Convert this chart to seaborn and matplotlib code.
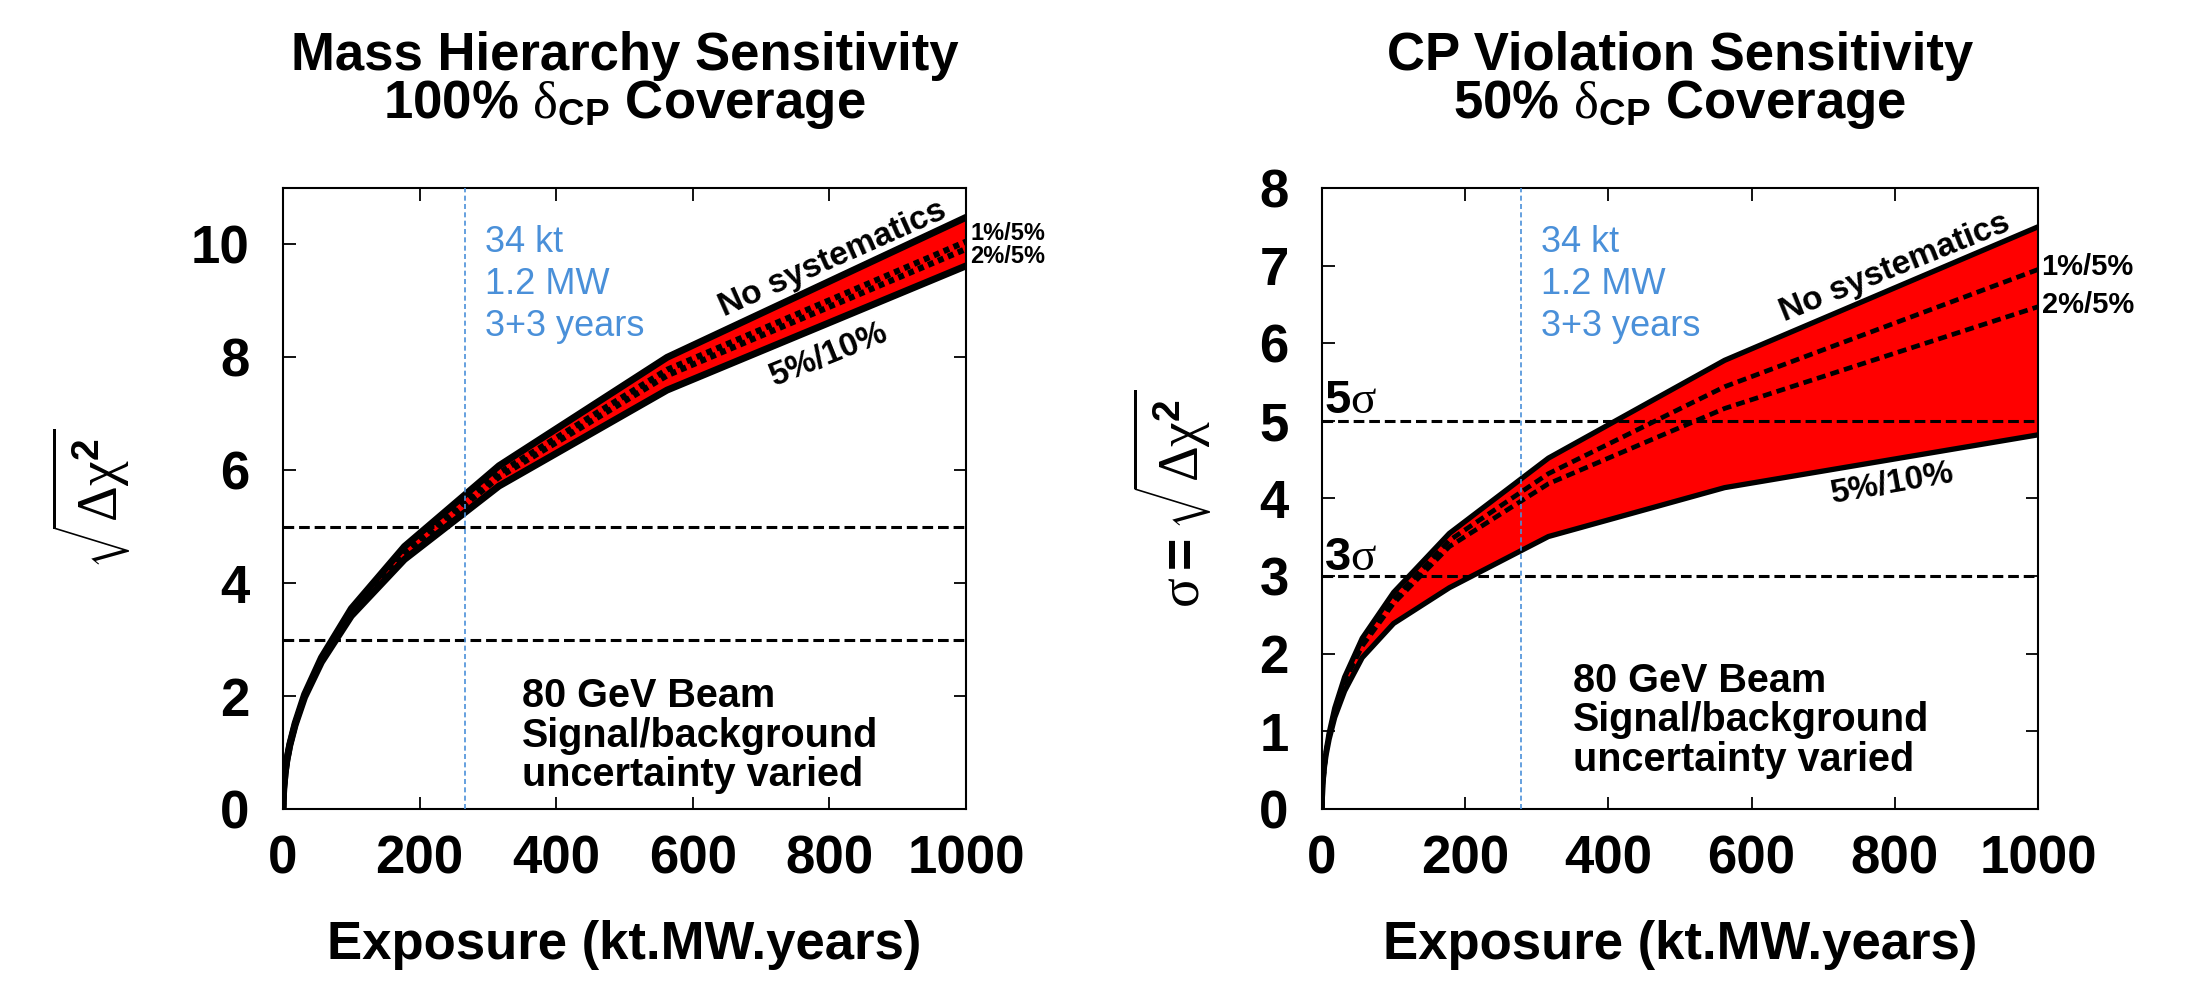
import matplotlib
matplotlib.use("Agg")
import matplotlib.pyplot as plt
import seaborn as sns

# exposure in kt.MW.years
exposure = [0, 1, 3.16, 5.62, 10, 17.8, 31.6, 56.2, 100, 177.8, 316.2, 562.3, 1000]

# mass hierarchy sensitivity, sqrt(dchi2)
mh_nosys = [0, 0.36, 0.65, 0.87, 1.15, 1.52, 2.03, 2.68, 3.55, 4.65, 6.08, 8.00, 10.48]
mh_1_5 = [0, 0.36, 0.65, 0.87, 1.14, 1.51, 2.01, 2.65, 3.50, 4.57, 5.95, 7.78, 10.05]
mh_2_5 = [0, 0.36, 0.65, 0.86, 1.14, 1.50, 2.00, 2.63, 3.47, 4.52, 5.88, 7.68, 9.92]
mh_5_10 = [0, 0.35, 0.64, 0.86, 1.13, 1.49, 1.98, 2.60, 3.42, 4.42, 5.72, 7.42, 9.62]

# CP violation sensitivity
cp_nosys = [0, 0.30, 0.55, 0.74, 0.98, 1.30, 1.70, 2.20, 2.79, 3.55, 4.52, 5.78, 7.50]
cp_1_5 = [0, 0.30, 0.54, 0.73, 0.96, 1.27, 1.66, 2.14, 2.70, 3.46, 4.32, 5.44, 6.95]
cp_2_5 = [0, 0.30, 0.54, 0.72, 0.95, 1.26, 1.64, 2.10, 2.65, 3.38, 4.19, 5.16, 6.47]
cp_5_10 = [0, 0.29, 0.52, 0.69, 0.90, 1.18, 1.52, 1.95, 2.39, 2.85, 3.51, 4.14, 4.82]

sigma_levels = [3, 5]
beam_exposure_mh = 267
beam_exposure_cp = 278

blue = "#4a90d9"

sns.set_theme(style="ticks")
plt.rcParams["font.family"] = ["Liberation Sans", "DejaVu Sans"]
plt.rcParams["font.weight"] = "bold"
plt.rcParams["text.color"] = "black"
plt.rcParams["axes.labelcolor"] = "black"
plt.rcParams["xtick.color"] = "black"
plt.rcParams["ytick.color"] = "black"
plt.rcParams["axes.edgecolor"] = "black"
plt.rcParams["mathtext.fontset"] = "custom"
plt.rcParams["mathtext.rm"] = "Liberation Serif:weight=normal:style=normal"
plt.rcParams["mathtext.it"] = "Liberation Serif:weight=normal:style=italic"
plt.rcParams["mathtext.bf"] = "Liberation Sans:weight=bold"

fig = plt.figure(figsize=(21.96, 9.88), dpi=100)
fig.patch.set_facecolor("white")
ax1 = fig.add_axes([283 / 2196, 1 - 809 / 988, 683 / 2196, 621 / 988])
ax2 = fig.add_axes([1322 / 2196, 1 - 809 / 988, 716 / 2196, 621 / 988])


def draw_panel(ax, nosys, s15, s25, s510, beam, lw, dot_lw, dot_pat):
    ax.set_facecolor("white")
    ax.fill_between(exposure, s510, nosys, color="#ff0000", lw=0, zorder=1)
    for lev in sigma_levels:
        ax.axhline(lev, color="black", lw=2.2, ls=(0, (3.5, 1.6)), zorder=3)
    sns.lineplot(x=exposure, y=nosys, ax=ax, color="black", lw=lw, zorder=4)
    sns.lineplot(x=exposure, y=s510, ax=ax, color="black", lw=lw, zorder=4)
    for s in (s15, s25):
        sns.lineplot(x=exposure, y=s, ax=ax, color="black", lw=dot_lw,
                     ls=(0, dot_pat), zorder=4)
    ax.axvline(beam, color=blue, lw=1.2, ls=(0, (3, 2)), zorder=5)
    ax.set_xlim(0, 1000)
    ax.set_xticks([0, 200, 400, 600, 800, 1000])
    ax.tick_params(axis="both", direction="in", length=9, width=1.3,
                   top=True, right=True, labelsize=38, colors="black")
    ax.tick_params(axis="x", pad=18)
    ax.tick_params(axis="y", pad=24)
    for sp in ax.spines.values():
        sp.set_visible(True)
        sp.set_linewidth(1.5)
        sp.set_color("black")
    ax.set_xlabel("Exposure (kt.MW.years)", fontsize=38, fontweight="bold",
                  va="center")
    ax.xaxis.set_label_coords(0.5, -0.219)


draw_panel(ax1, mh_nosys, mh_1_5, mh_2_5, mh_5_10, beam_exposure_mh,
           5, 4.3, (1, 0.8))
draw_panel(ax2, cp_nosys, cp_1_5, cp_2_5, cp_5_10, beam_exposure_cp,
           3.8, 3.4, (1.9, 1.1))

ax1.set_ylim(0, 11)
ax1.set_yticks([0, 2, 4, 6, 8, 10])
ax2.set_ylim(0, 8)
ax2.set_yticks([0, 1, 2, 3, 4, 5, 6, 7, 8])

ax1.set_ylabel(r"$\sqrt{\mathrm{\Delta\chi}^{\mathbf{2}}}$", fontsize=40, va="center")
ax1.yaxis.set_label_coords(-0.281, 0.5)
ax2.set_ylabel(r"$\mathrm{\sigma}\mathbf{=}\sqrt{\mathrm{\Delta\chi}^{\mathbf{2}}}$",
               fontsize=40, va="center")
ax2.yaxis.set_label_coords(-0.209, 0.5)

# titles
fig.text(0.2843, 1 - 70 / 988, "Mass Hierarchy Sensitivity", ha="center",
         va="baseline", fontsize=38, fontweight="bold")
fig.text(0.2843, 1 - 118 / 988, r"100% $\mathrm{\delta}_{\mathbf{CP}}$ Coverage",
         ha="center", va="baseline", fontsize=38, fontweight="bold")
fig.text(0.7650, 1 - 70 / 988, "CP Violation Sensitivity", ha="center",
         va="baseline", fontsize=38, fontweight="bold")
fig.text(0.7650, 1 - 118 / 988, r"50% $\mathrm{\delta}_{\mathbf{CP}}$ Coverage",
         ha="center", va="baseline", fontsize=38, fontweight="bold")

# annotations, left panel
ax1.text(296, 10.35, "34 kt\n1.2 MW\n3+3 years", color=blue, fontsize=26,
         fontweight="normal", va="top", ha="left", linespacing=1.26)
ax1.text(350, 2.33, "80 GeV Beam\nSignal/background\nuncertainty varied",
         fontsize=28.5, fontweight="bold", va="top", ha="left", linespacing=1.05)
ax1.text(805, 9.74, "No systematics", fontsize=24, fontweight="bold",
         rotation=24, ha="center", va="center", rotation_mode="anchor")
ax1.text(800, 8.05, "5%/10%", fontsize=24, fontweight="bold",
         rotation=22, ha="center", va="center", rotation_mode="anchor")
ax1.text(1006, 10.2, "1%/5%", fontsize=17, fontweight="bold", ha="left",
         va="center", clip_on=False)
ax1.text(1006, 9.78, "2%/5%", fontsize=17, fontweight="bold", ha="left",
         va="center", clip_on=False)

# annotations, right panel
ax2.text(306, 7.52, "34 kt\n1.2 MW\n3+3 years", color=blue, fontsize=26,
         fontweight="normal", va="top", ha="left", linespacing=1.26)
ax2.text(350, 1.9, "80 GeV Beam\nSignal/background\nuncertainty varied",
         fontsize=28.5, fontweight="bold", va="top", ha="left", linespacing=1.05)
ax2.text(800, 6.97, "No systematics", fontsize=24, fontweight="bold",
         rotation=22, ha="center", va="center", rotation_mode="anchor")
ax2.text(797, 4.19, "5%/10%", fontsize=24, fontweight="bold",
         rotation=10, ha="center", va="center", rotation_mode="anchor")
ax2.text(1005, 6.98, "1%/5%", fontsize=21, fontweight="bold", ha="left",
         va="center", clip_on=False)
ax2.text(1005, 6.49, "2%/5%", fontsize=21, fontweight="bold", ha="left",
         va="center", clip_on=False)
ax2.text(3, 5.1, r"5$\mathrm{\sigma}$", fontsize=34, fontweight="bold",
         ha="left", va="baseline")
ax2.text(3, 3.08, r"3$\mathrm{\sigma}$", fontsize=34, fontweight="bold",
         ha="left", va="baseline")

fig.savefig("out.png", dpi=100, facecolor="white")
